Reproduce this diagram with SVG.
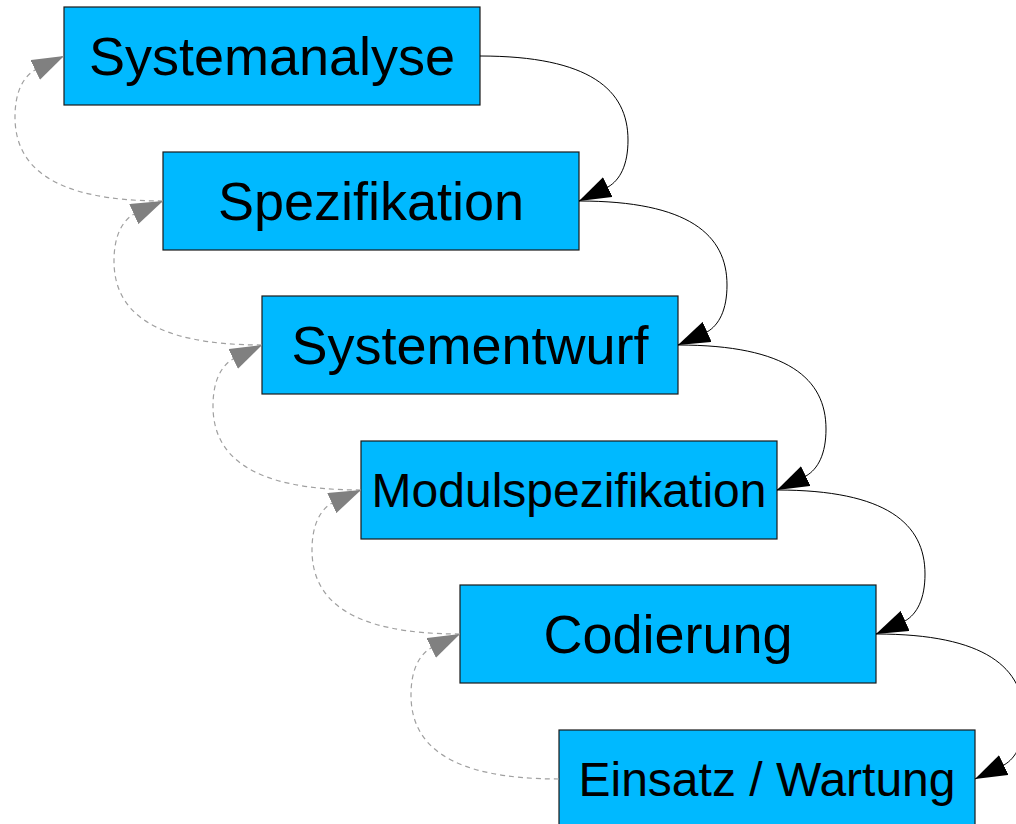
<svg xmlns="http://www.w3.org/2000/svg" width="1016" height="824" viewBox="0 0 1016 824">
  <style>
    .box { fill: #00b9ff; stroke: #1a1a1a; stroke-width: 1.2; }
    .label { font-family: "Liberation Sans", Arial, sans-serif; fill: #000; text-anchor: middle; }
    .big { font-size: 54px; }
    .small { font-size: 48px; }
    .forward { fill: none; stroke: #000; stroke-width: 1; marker-end: url(#arrowBlack); }
    .back { fill: none; stroke: #a0a0a0; stroke-width: 1.2; stroke-dasharray: 5 4; marker-end: url(#arrowGray); }
  </style>
  <defs>
    <marker id="arrowBlack" markerUnits="userSpaceOnUse" markerWidth="32" markerHeight="22" viewBox="0 0 32 22" refX="32" refY="11" orient="auto">
      <path d="M0,0 L32,11 L0,22 z" fill="#000" stroke="none"/>
    </marker>
    <marker id="arrowGray" markerUnits="userSpaceOnUse" markerWidth="32" markerHeight="22" viewBox="0 0 32 22" refX="32" refY="11" orient="auto">
      <path d="M0,0 L32,11 L0,22 z" fill="#808080" stroke="none"/>
    </marker>
  </defs>

  <rect width="1016" height="824" fill="#fff"/>

  <g id="node-systemanalyse">
    <rect class="box" x="64" y="7" width="416" height="98"/>
    <text class="label big" x="272" y="75">Systemanalyse</text>
  </g>
  <g id="node-spezifikation">
    <rect class="box" x="163" y="152" width="416" height="98"/>
    <text class="label big" x="371" y="220">Spezifikation</text>
  </g>
  <g id="node-systementwurf">
    <rect class="box" x="262" y="296" width="416" height="98"/>
    <text class="label big" x="470" y="364">Systementwurf</text>
  </g>
  <g id="node-modulspezifikation">
    <rect class="box" x="361" y="441" width="416" height="98"/>
    <text class="label small" x="569" y="507">Modulspezifikation</text>
  </g>
  <g id="node-codierung">
    <rect class="box" x="460" y="585" width="416" height="98"/>
    <text class="label big" x="668" y="653">Codierung</text>
  </g>
  <g id="node-einsatz">
    <rect class="box" x="559" y="730" width="416" height="98"/>
    <text class="label small" x="767" y="796">Einsatz / Wartung</text>
  </g>

  <g id="connectors">
    <!-- forward flow: right side of each phase to the right side of the next -->
    <path class="forward" d="M480,56 C590,56 628,90 628,140 C628,165 620,180 608,187 L579,201"/>
    <path class="forward" d="M579,201 C689,201 727,235 727,285 C727,310 719,325 707,332 L678,345"/>
    <path class="forward" d="M678,345 C788,345 826,379 826,429 C826,454 818,469 806,476 L777,490"/>
    <path class="forward" d="M777,490 C887,490 925,524 925,574 C925,599 917,614 905,621 L876,634"/>
    <path class="forward" d="M876,634 C986,634 1024,668 1024,718 C1024,743 1016,758 1004,765 L975,779"/>
    <!-- feedback: left side of each phase back to the previous one -->
    <path class="back" d="M163,201 C53,201 15,167 15,117 C15,92 23,77 35,70 L64,56"/>
    <path class="back" d="M262,345 C152,345 114,311 114,261 C114,236 122,221 134,214 L163,201"/>
    <path class="back" d="M361,490 C251,490 213,456 213,406 C213,381 221,366 233,359 L262,345"/>
    <path class="back" d="M460,634 C350,634 312,600 312,550 C312,525 320,510 332,503 L361,490"/>
    <path class="back" d="M559,779 C449,779 411,745 411,695 C411,670 419,655 431,648 L460,634"/>
  </g>
</svg>
